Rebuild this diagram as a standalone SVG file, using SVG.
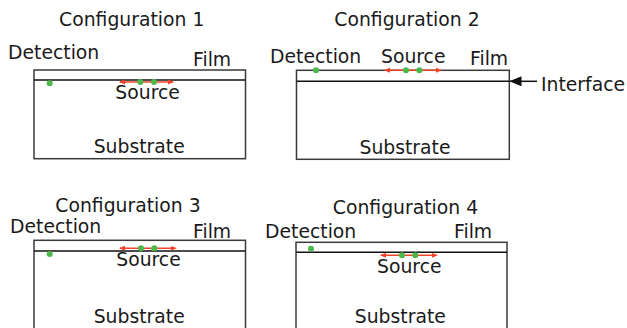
<svg xmlns="http://www.w3.org/2000/svg" width="627" height="328" viewBox="0 0 627 328">
<style>
text{font-family:"DejaVu Sans","Liberation Sans",sans-serif;font-size:18.8px;fill:#1a1a1a}
.mid{text-anchor:middle}
.box{fill:#fff;stroke:#3a3a3a;stroke-width:1.5}
.ifl{stroke:#111;stroke-width:1.5}
.dot{fill:#4cb848}
.red{stroke:#f0442a;stroke-width:1.6;fill:none;marker-start:url(#rh);marker-end:url(#rh)}
.blk{stroke:#111;stroke-width:1.5;fill:none;marker-end:url(#bh)}
</style>
<defs>
<marker id="rh" viewBox="0 0 6 6" refX="5" refY="3" markerWidth="6" markerHeight="6" markerUnits="userSpaceOnUse" orient="auto-start-reverse">
<path d="M0,0.5 L6,3 L0,5.5 Z" fill="#f0442a"/>
</marker>
<marker id="bh" viewBox="0 0 12 10" refX="12" refY="5" markerWidth="12" markerHeight="10" markerUnits="userSpaceOnUse" orient="auto">
<path d="M0,0 L12,5 L0,10 Z" fill="#111"/>
</marker>
</defs>
<rect width="627" height="328" fill="#fff"/>

<g id="config1">
<text class="mid" x="131.7" y="25.7">Configuration 1</text>
<text x="8" y="59">Detection</text>
<text x="193" y="65.5">Film</text>
<rect class="box" x="34" y="70" width="211.5" height="88.7"/>
<line class="ifl" x1="34" y1="80" x2="245.5" y2="80"/>
<text class="mid" x="147.6" y="99">Source</text>
<text class="mid" x="139.2" y="153">Substrate</text>
</g>

<g id="config2">
<text class="mid" x="407" y="26">Configuration 2</text>
<text x="270" y="63">Detection</text>
<text x="381" y="63">Source</text>
<text x="470" y="64.7">Film</text>
<rect class="box" x="296.5" y="70.3" width="212.8" height="89"/>
<line class="ifl" x1="296.5" y1="81.3" x2="509.3" y2="81.3"/>
<text x="541" y="91">Interface</text>
<text class="mid" x="405" y="154.3">Substrate</text>
</g>

<g id="config3">
<text class="mid" x="128" y="212.3">Configuration 3</text>
<text x="10" y="233.3">Detection</text>
<text x="193" y="238.3">Film</text>
<rect class="box" x="34" y="240.3" width="211.5" height="100"/>
<line class="ifl" x1="34" y1="251" x2="245.5" y2="251"/>
<text class="mid" x="148.5" y="266">Source</text>
<text class="mid" x="139.2" y="323">Substrate</text>
</g>

<g id="config4">
<text class="mid" x="405.5" y="213.7">Configuration 4</text>
<text x="265" y="238.3">Detection</text>
<text x="454" y="238">Film</text>
<rect class="box" x="296" y="242.3" width="211" height="100"/>
<line class="ifl" x1="296" y1="252.3" x2="507" y2="252.3"/>
<text class="mid" x="409.3" y="272.7">Source</text>
<text class="mid" x="400.3" y="323">Substrate</text>
</g>

<g id="connectors">
<line class="red" x1="120" y1="82" x2="173" y2="82"/>
<line class="red" x1="385" y1="70.3" x2="441" y2="70.3"/>
<line class="red" x1="120" y1="248.3" x2="175.7" y2="248.3"/>
<line class="red" x1="381" y1="255.3" x2="436.7" y2="255.3"/>
<line class="blk" x1="537" y1="81.3" x2="509.5" y2="81.3"/>
</g>

<g id="dots">
<circle class="dot" cx="49.7" cy="83.3" r="3"/>
<circle class="dot" cx="140.3" cy="82" r="3"/>
<circle class="dot" cx="154" cy="82" r="3"/>
<circle class="dot" cx="316" cy="70.3" r="3"/>
<circle class="dot" cx="406" cy="70.3" r="3"/>
<circle class="dot" cx="419.3" cy="70.3" r="3"/>
<circle class="dot" cx="49.7" cy="254" r="3"/>
<circle class="dot" cx="141" cy="248.3" r="3"/>
<circle class="dot" cx="154.3" cy="248.3" r="3"/>
<circle class="dot" cx="311" cy="248.7" r="3"/>
<circle class="dot" cx="402" cy="255.3" r="3"/>
<circle class="dot" cx="415.3" cy="255.3" r="3"/>
</g>
</svg>
